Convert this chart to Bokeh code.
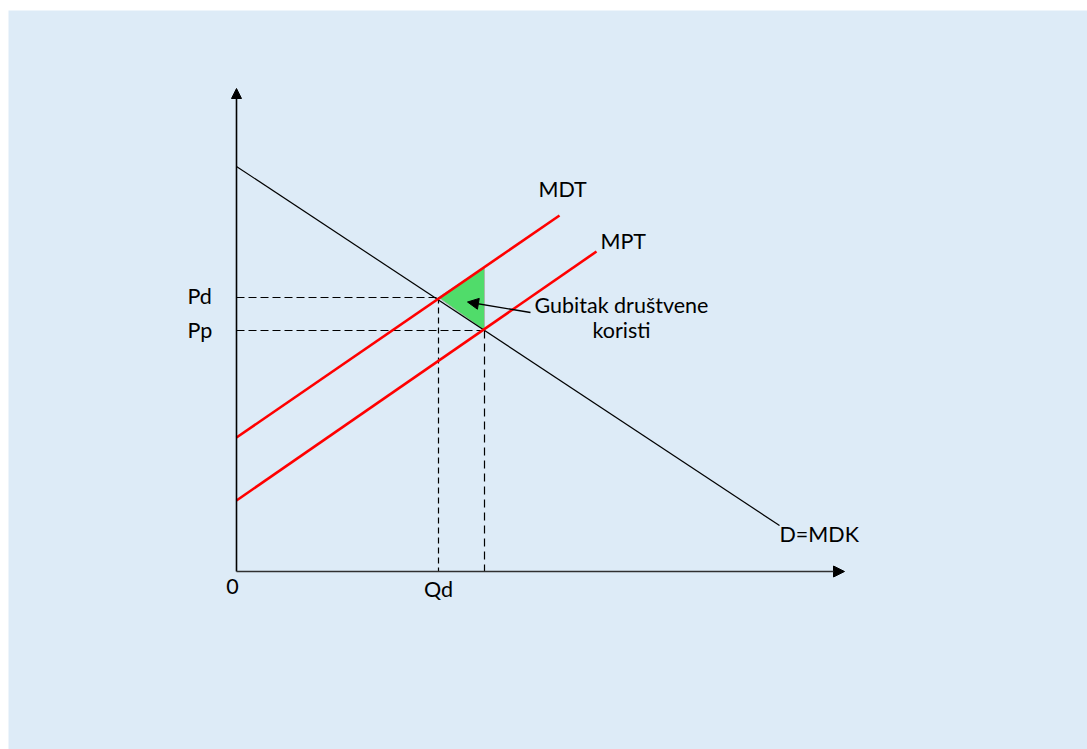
from bokeh.plotting import figure
from bokeh.models import Range1d, Arrow, NormalHead
from bokeh.core.properties import value
from bokeh.embed import file_html
from bokeh.resources import INLINE

# ---- chart values (abstract economic units: quantity Q, price P) ----
demand_q = [0.0, 10.86]      # D = MDK
demand_p = [8.10, 0.92]
mdt_q = [0.0, 6.46]          # MDT (marginal social cost)
mdt_p = [2.68, 7.12]
mpt_q = [0.0, 7.20]          # MPT (marginal private cost)
mpt_p = [1.42, 6.40]
Qd = 4.04                    # socially optimal quantity
Qp = 4.96                    # private market quantity
Pd = 5.48
Pp = 4.82
P_mdt_at_Qp = 6.09
q_axis_max = 12.16
p_axis_max = 9.66

dwl_q = [Qd, Qp, Qp]
dwl_p = [Pd, P_mdt_at_Qp, Pp]

UNIT = 50.0  # pixels per unit (layout helper)
FONT = "Lato"
FS = "21.5px"

p = figure(width=1087, height=749, output_backend="svg", toolbar_location=None,
           x_range=Range1d(-228 / UNIT, 851 / UNIT),
           y_range=Range1d(-178 / UNIT, 561 / UNIT),
           min_border_left=8, min_border_right=0, min_border_bottom=0, min_border_top=10,
           border_fill_color="white", background_fill_color="#DDEBF7",
           outline_line_color=None)
p.axis.visible = False
p.xgrid.visible = False
p.ygrid.visible = False

# deadweight loss triangle
p.patch(dwl_q, dwl_p, fill_color="#50DC6A", line_color="#a9bba9", line_width=1)

# dashed guides
p.line([0, Qd], [Pd, Pd], line_color="black", line_width=1.2, line_dash="8 4")
p.line([0, Qp], [Pp, Pp], line_color="black", line_width=1.2, line_dash="8 4")
p.line([Qd, Qd], [Pd, 0], line_color="black", line_width=1.2, line_dash="6 4")
p.line([Qp, Qp], [Pp, 0], line_color="black", line_width=1.2, line_dash="8 5")

# curves
p.line(demand_q, demand_p, line_color="black", line_width=1.2)
p.line(mdt_q, mdt_p, line_color="#FF0000", line_width=2.6)
p.line(mpt_q, mpt_p, line_color="#FF0000", line_width=2.6)

# axes with arrows
p.add_layout(Arrow(end=NormalHead(size=10, fill_color="black", line_color="black"),
                   x_start=0, y_start=0, x_end=0, y_end=p_axis_max,
                   line_color="black", line_width=1.6))
p.add_layout(Arrow(end=NormalHead(size=11, fill_color="black", line_color="black"),
                   x_start=0, y_start=0, x_end=q_axis_max, y_end=0,
                   line_color="#303030", line_width=1.6))

# annotation arrow pointing to the triangle
p.add_layout(Arrow(end=NormalHead(size=11, fill_color="black", line_color="black"),
                   x_start=Qp + 0.92, y_start=Pp + 0.36,
                   x_end=Qd + 0.58, y_end=Pd - 0.09,
                   line_color="black", line_width=1.3))

# labels
lab_x = [0 - 49 / UNIT, 0 - 49 / UNIT, 0 - 4 / UNIT, Qd, mdt_q[1] - 21 / UNIT,
         mpt_q[1] + 4 / UNIT, demand_q[1], 7.70, 7.70]
lab_y = [Pd + 2 / UNIT, Pp + 1 / UNIT, -15 / UNIT, -17 / UNIT, mdt_p[1] + 27 / UNIT,
         mpt_p[1] + 11 / UNIT, demand_p[1] - 8 / UNIT, Pp + 26 / UNIT, Pp + 1 / UNIT]
lab_t = ["Pd", "Pp", "0", "Qd", "MDT", "MPT", "D=MDK", "Gubitak društvene", "koristi"]
lab_a = ["left", "left", "center", "center", "left", "left", "left", "center", "center"]
p.text(x=lab_x, y=lab_y, text=lab_t, text_align=lab_a, text_baseline="alphabetic",
       text_font=value(FONT), text_font_size=FS, text_color="black")

open("out.html", "w").write(file_html(p, INLINE))
